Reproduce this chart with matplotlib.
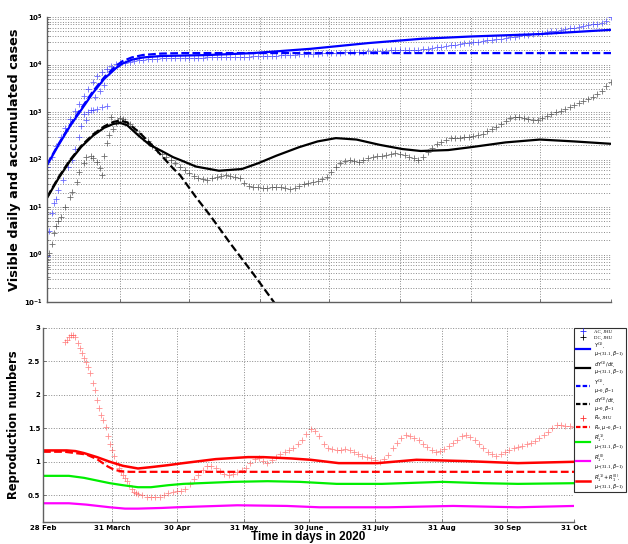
import numpy as np
import matplotlib
matplotlib.use("Agg")
import matplotlib.pyplot as plt
from matplotlib.lines import Line2D

# ---- time axis (days after 28 Feb 2020) ----
month_days = [0, 32, 62, 93, 123, 154, 185, 215, 246]
month_labels = ['28 Feb', '31 March', '30 Apr', '31 May', '30 June',
                '31 July', '31 Aug', '30 Sep', '31 Oct']

# ---- upper panel: accumulated (AC) and daily (DC) cases ----
y1_days = [0, 5, 10, 15, 20, 25, 30, 33, 37, 42, 50, 70, 90, 115, 140, 163, 185, 215, 246]
y1_vals = [76, 200, 500, 1120, 2510, 5010, 8320, 10500, 12600, 14100, 15100, 15800,
           17400, 21400, 28200, 34700, 38900, 43700, 53700]

y1_mu0_days = [0, 5, 10, 15, 20, 25, 30, 33, 37, 42, 50, 60, 80, 246]
y1_mu0_vals = [78, 210, 530, 1200, 2700, 5400, 9300, 11800, 14100, 15900, 17000,
               17400, 17400, 17400]

dy1_days = [0, 5, 10, 15, 20, 25, 29, 32, 35, 40, 45, 50, 55, 58, 65, 75, 85, 92, 100,
            110, 118, 126, 135, 145, 155, 163, 175, 185, 200, 215, 230, 246]
dy1_vals = [15.5, 40, 93, 186, 316, 468, 562, 589, 525, 316, 200, 151, 112, 98, 71, 58,
            63, 83, 120, 182, 240, 282, 263, 204, 166, 151, 158, 182, 229, 263, 240, 214]

dy1_mu0_days = [0, 5, 10, 15, 20, 25, 29, 32, 35, 40, 45, 50, 55, 58, 65, 71, 80, 90, 100, 106]
dy1_mu0_vals = [16, 42, 97, 195, 335, 500, 620, 660, 600, 380, 220, 120, 65, 47, 16, 6.8,
                1.7, 0.39, 0.085, 0.035]

# AC, JHU (several early tracks, then the plateau every second day)
ac_days = ([0, 1, 2, 3, 4, 5, 7, 9, 11, 12, 14, 15, 17, 19, 21, 23, 25]
           + [16, 18, 20, 22, 24, 26]
           + list(range(0, 33, 2))
           + list(range(34, 247, 2)))
ac_vals = ([0.95, 3.2, 7.5, 12, 15, 23, 37, 70, 100, 170, 300, 500, 680, 1100, 2100, 2800, 3700]
           + [900, 1000, 1080, 1150, 1250, 1320]
           + [70, 115, 190, 300, 460, 700, 1050, 1500, 2200, 3100, 4300, 5700, 7000, 8200,
              9300, 10300, 11000]
           + [10500, 11200, 11700, 12300, 12600, 12900, 13100, 13200, 13400, 13500,
              13600, 13700, 13800, 13800, 13900, 13900, 14000, 14000, 14100, 14200,
              14200, 14300, 14300, 14400, 14400, 14500, 14600, 14700, 14800, 14900,
              15000, 15100, 15300, 15400, 15600, 15800, 15900, 16100, 16300, 16500,
              16700, 16800, 17000, 17200, 17300, 17500, 17600, 17800, 17900, 18100,
              18300, 18500, 18700, 18900, 19100, 19300, 19500, 19600, 19800, 19900,
              20000, 20100, 20200, 20300, 20400, 20800, 21400, 22100, 22800, 23500,
              24300, 25200, 26100, 27000, 27900, 28700, 29500, 30300, 31200, 32100,
              33100, 34000, 35000, 36000, 37100, 38300, 39500, 40800, 42100, 43500,
              45000, 46500, 48100, 49800, 51600, 53500, 55500, 57600, 59800, 62100,
              64500, 67000, 69700, 72700, 76000, 82000, 98000])

# DC, JHU
dc_days = ([0, 0, 0, 1, 2, 3, 4, 5, 6, 8, 10, 11, 13, 14, 16, 17, 19, 20, 22, 23, 24,
            25, 26, 27, 28, 29, 30, 31, 32, 33]
           + list(range(34, 247, 2)))
dc_vals = ([0.34, 0.55, 0.78, 1.07, 1.7, 2.8, 4, 5, 6.2, 10, 16, 21, 34, 55, 83, 112, 117,
            107, 89, 66, 47, 117, 224, 331, 790, 447, 589, 661, 741, 700]
           + [631, 562, 447, 355, 288, 240, 195, 158, 132, 112, 98, 83, 71, 60, 52, 46,
              41, 38, 37, 40, 43, 45, 47, 46, 43, 40, 32, 28, 26, 26, 25, 25, 26, 27,
              27, 25, 24, 25, 28, 30, 32, 34, 36, 39, 42, 55, 71, 83, 95, 98, 93, 89,
              100, 107, 112, 117, 120, 126, 132, 138, 132, 123, 115, 105, 98, 112, 141,
              178, 209, 234, 263, 282, 288, 288, 295, 295, 309, 324, 347, 389, 437, 479,
              550, 646, 741, 776, 776, 759, 724, 692, 676, 741, 832, 912, 977, 1070,
              1175, 1290, 1410, 1550, 1700, 1860, 2040, 2340, 2820, 3470, 4270])

# ---- lower panel: reproduction numbers ----
rv_days = list(range(10, 45)) + list(range(46, 247, 2))
rv_vals = ([2.79, 2.82, 2.86, 2.90, 2.89, 2.86, 2.78, 2.70, 2.62, 2.55, 2.49, 2.42,
            2.32, 2.18, 2.07, 1.93, 1.80, 1.70, 1.62, 1.52, 1.38, 1.27, 1.17, 1.08,
            0.98, 0.90, 0.84, 0.80, 0.76, 0.72, 0.66, 0.59, 0.55, 0.53, 0.52]
           + [0.50, 0.48, 0.47, 0.47, 0.47, 0.50, 0.53, 0.55, 0.56, 0.57, 0.60, 0.67,
              0.74, 0.81, 0.88, 0.93, 0.94, 0.91, 0.86, 0.82, 0.81, 0.82, 0.84, 0.87,
              0.90, 0.98, 1.04, 1.06, 1.01, 0.98, 1.02, 1.07, 1.11, 1.15, 1.17, 1.20,
              1.26, 1.32, 1.42, 1.49, 1.46, 1.38, 1.27, 1.21, 1.19, 1.17, 1.18, 1.19,
              1.17, 1.14, 1.12, 1.09, 1.07, 1.05, 1.02, 1.00, 1.04, 1.10, 1.20, 1.28,
              1.35, 1.40, 1.39, 1.36, 1.32, 1.27, 1.22, 1.18, 1.15, 1.16, 1.19, 1.23,
              1.28, 1.33, 1.38, 1.40, 1.37, 1.32, 1.26, 1.20, 1.15, 1.11, 1.09, 1.11,
              1.14, 1.17, 1.20, 1.22, 1.24, 1.26, 1.28, 1.31, 1.35, 1.40, 1.45, 1.50,
              1.55, 1.55, 1.53, 1.53, 1.52])

rv_mu0_days = [0, 10, 20, 25, 30, 33, 36, 40, 246]
rv_mu0_vals = [1.15, 1.15, 1.11, 1.04, 0.93, 0.88, 0.86, 0.85, 0.85]

r11_days = [0, 6, 12, 19, 25, 31, 37, 44, 50, 58, 65, 80, 88, 104, 119, 136, 157, 185, 204, 220, 246]
r11_vals = [0.79, 0.79, 0.79, 0.76, 0.72, 0.68, 0.65, 0.62, 0.62, 0.65, 0.67, 0.69,
            0.70, 0.71, 0.70, 0.67, 0.67, 0.70, 0.68, 0.67, 0.68]

r10_days = [0, 6, 12, 20, 31, 38, 44, 55, 62, 90, 113, 128, 160, 190, 220, 246]
r10_vals = [0.38, 0.38, 0.38, 0.36, 0.32, 0.30, 0.30, 0.31, 0.32, 0.35, 0.34, 0.32,
            0.32, 0.34, 0.32, 0.34]

rsum_days = [0, 5, 11, 15, 19, 25, 31, 37, 44, 50, 58, 65, 80, 95, 102, 115, 124, 137,
             155, 173, 196, 220, 246]
rsum_vals = [1.17, 1.17, 1.17, 1.16, 1.13, 1.07, 1.00, 0.94, 0.90, 0.92, 0.95, 0.98,
             1.04, 1.07, 1.07, 1.05, 1.03, 0.98, 0.98, 1.03, 1.01, 0.98, 1.00]

grid_kw = dict(linestyle=':', color='#8a8a8a', linewidth=0.7)
lbl_font = dict(family='DejaVu Sans', weight='bold')

fig = plt.figure(figsize=(6.28, 5.44), dpi=100)
ax1 = fig.add_axes([47/628, 1 - 302/544, 564/628, 285/544])
ax2 = fig.add_axes([43/628, 1 - 522/544, 531/628, 194/544])

# upper panel
ax1.plot(ac_days, ac_vals, '+', color='#2a2aff', ms=4.5, mew=0.6, alpha=0.7)
ax1.plot(dc_days, dc_vals, '+', color='#202020', ms=4.5, mew=0.6, alpha=0.65)
ax1.plot(y1_days, y1_vals, '-', color='#0000ff', lw=1.6)
ax1.plot(dy1_days, dy1_vals, '-', color='black', lw=1.6)
ax1.plot(y1_mu0_days, y1_mu0_vals, '--', color='#0000ff', lw=1.6, dashes=(3.5, 1.5))
ax1.plot(dy1_mu0_days, dy1_mu0_vals, '--', color='black', lw=1.6, dashes=(3.5, 1.5))

ax1.set_yscale('log')
ax1.set_ylim(1e-1, 1e5)
ax1.set_xlim(0, 246)
ax1.set_xticks(month_days)
ax1.set_xticklabels([])
ax1.set_yticks([1e-1, 1, 1e1, 1e2, 1e3, 1e4, 1e5])
ax1.grid(True, which='major', **grid_kw)
ax1.grid(True, which='minor', axis='y', **grid_kw)
ax1.set_ylabel('Visible daily and accumulated cases', fontsize=9.3, **lbl_font)
ax1.yaxis.set_label_coords(-0.046, 0.5)

# lower panel
ax2.plot(rv_days, rv_vals, '+', color='#ff3030', ms=4.5, mew=0.6, alpha=0.55)
ax2.plot(rv_mu0_days, rv_mu0_vals, '--', color='red', lw=1.6, dashes=(3.5, 1.5))
ax2.plot(r11_days, r11_vals, '-', color='#00ee00', lw=1.6)
ax2.plot(r10_days, r10_vals, '-', color='magenta', lw=1.6)
ax2.plot(rsum_days, rsum_vals, '-', color='red', lw=1.8)

ax2.set_xlim(0, 246)
ax2.set_ylim(0.1, 3)
ax2.set_xticks(month_days)
ax2.set_xticklabels(month_labels)
ax2.set_yticks([0.5, 1, 1.5, 2, 2.5, 3])
ax2.set_yticklabels(['0.5', '1', '1.5', '2', '2.5', '3'])
ax2.grid(True, which='major', **grid_kw)
ax2.set_ylabel('Reproduction numbers', fontsize=8.3, **lbl_font)
ax2.yaxis.set_label_coords(-0.044, 0.5)
ax2.set_xlabel('Time in days in 2020', fontsize=8.5, family='Liberation Sans',
               weight='bold', va='center')
ax2.xaxis.set_label_coords(0.5, -0.075)

for ax in (ax1, ax2):
    for side in ('top', 'right'):
        ax.spines[side].set_visible(False)
    for side in ('left', 'bottom'):
        ax.spines[side].set_color('#606060')
        ax.spines[side].set_linewidth(1.0)
    ax.tick_params(which='both', direction='in', length=2.5, width=0.6, color='#606060',
                   labelsize=5, pad=2)
    ax.tick_params(which='minor', length=1.5)
    for t in ax.get_xticklabels() + ax.get_yticklabels():
        t.set_fontweight('bold')
ax1.tick_params(axis='y', pad=3)

handles = [
    Line2D([], [], ls='none', marker='+', color='#2a2aff', ms=4, mew=0.6),
    Line2D([], [], ls='none', marker='+', color='black', ms=4, mew=0.6),
    Line2D([], [], color='#0000ff', lw=1.6),
    Line2D([], [], color='black', lw=1.6),
    Line2D([], [], color='#0000ff', lw=1.6, ls='--', dashes=(2, 1)),
    Line2D([], [], color='black', lw=1.6, ls='--', dashes=(2, 1)),
    Line2D([], [], ls='none', marker='+', color='#ff3030', ms=4, mew=0.6),
    Line2D([], [], color='red', lw=1.6, ls='--', dashes=(2, 1)),
    Line2D([], [], color='#00ee00', lw=1.6),
    Line2D([], [], color='magenta', lw=1.6),
    Line2D([], [], color='red', lw=1.8),
]
labels = [
    'AC, JHU',
    'DC, JHU',
    '$Y^{(1)}$,\n$\\mu$=(31.1, $\\beta$=1)',
    '$dY^{(1)}/dt$,\n$\\mu$=(31.1, $\\beta$=1)',
    '$Y^{(1)}$,\n$\\mu$=0, $\\beta$=1',
    '$dY^{(1)}/dt$,\n$\\mu$=0, $\\beta$=1',
    '$R_v$, JHU',
    '$R_v$, $\\mu$=0, $\\beta$=1',
    '$R_1^{(1)}$,\n$\\mu$=(31.1, $\\beta$=1)',
    '$R_1^{(0)}$,\n$\\mu$=(31.1, $\\beta$=1)',
    '$R_1^{(1)}+R_1^{(0)}$,\n$\\mu$=(31.1, $\\beta$=1)',
]
leg = ax2.legend(handles, labels, loc='upper left', bbox_to_anchor=(1.0, 1.0),
                 borderaxespad=0, prop=dict(family='Liberation Serif', size=3.5),
                 frameon=True, fancybox=False, edgecolor='#303030', framealpha=1,
                 handlelength=3.0, handletextpad=0.7, labelspacing=0.2,
                 borderpad=0.35, numpoints=1)
for txt in leg.get_texts():
    txt.set_linespacing(0.95)
leg.get_frame().set_linewidth(0.8)

fig.savefig('out.png', dpi=100)
